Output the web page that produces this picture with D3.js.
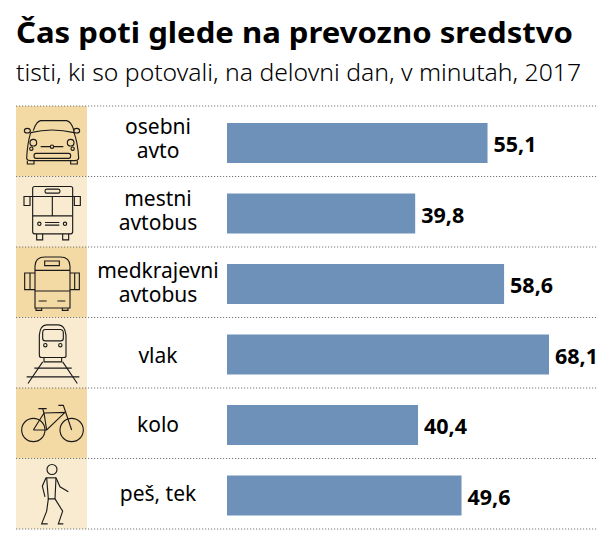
<!DOCTYPE html>
<html><head><meta charset="utf-8">
<script src="https://cdnjs.cloudflare.com/ajax/libs/d3/7.8.5/d3.min.js"></script>
<style>html,body{margin:0;background:#fff}svg{display:block}text{font-family:"Noto Sans",sans-serif;fill:#000}</style>
</head><body><svg id="c" width="614" height="545"></svg>
<script>
const titleText = "Čas poti glede na prevozno sredstvo";
const subtitleText = "tisti, ki so potovali, na delovni dan, v minutah, 2017";
const categories = [["osebni","avto"],["mestni","avtobus"],["medkrajevni","avtobus"],["vlak"],["kolo"],["peš, tek"]];
const iconNames = ["car","cityBus","coach","train","bike","walker"];
const values = [55.1,39.8,58.6,68.1,40.4,49.6];
const valueLabels = ["55,1","39,8","58,6","68,1","40,4","49,6"];
const bandColors = ["#f3d9a4","#f9ebd0"];
const labelNudge = [-7,-6,-4,10,8.5,7.5];

const svg = d3.select("#c");
svg.append("text").attr("x",16).attr("y",43).attr("font-size",29).attr("font-weight",700).attr("textLength",557).attr("lengthAdjust","spacingAndGlyphs").text(titleText);
svg.append("text").attr("x",16).attr("y",81).attr("font-size",24).attr("font-weight",300).attr("textLength",565).attr("lengthAdjust","spacingAndGlyphs").text(subtitleText);

const idx = d3.range(categories.length);
const y = d3.scaleBand().domain(idx).range([106,529]);
const x = d3.scaleLinear().domain([0,68.1]).range([227,549]);

svg.selectAll("rect.band").data(idx).join("rect").attr("class","band")
  .attr("x",16).attr("width",71).attr("y",i=>y(i)).attr("height",y.bandwidth())
  .attr("fill",i=>bandColors[i%2]);

svg.selectAll("line.rule").data(d3.range(categories.length+1)).join("line").attr("class","rule")
  .attr("x1",16).attr("x2",597).attr("y1",i=>106+i*y.bandwidth()).attr("y2",i=>106+i*y.bandwidth())
  .attr("stroke","#777").attr("stroke-width",1).attr("stroke-dasharray","1.2 1.8");

svg.selectAll("rect.bar").data(values).join("rect").attr("class","bar")
  .attr("x",x(0)).attr("y",(d,i)=>y(i)+17).attr("height",40)
  .attr("width",d=>x(d)-x(0)).attr("fill","#6e91ba");

svg.selectAll("text.val").data(values).join("text").attr("class","val")
  .attr("x",d=>x(d)+6).attr("y",(d,i)=>y(i)+46).attr("font-size",21.5).attr("font-weight",700)
  .attr("textLength",43).attr("lengthAdjust","spacingAndGlyphs")
  .text((d,i)=>valueLabels[i]);

categories.forEach((lines,i)=>{
  const cy = y(i)+y.bandwidth()/2;
  lines.forEach((t,k)=>{
    svg.append("text").attr("class","cat").attr("x",158).attr("text-anchor","middle")
      .attr("y",cy+labelNudge[i]+k*24).attr("font-size",21).text(t);
  });
});

// pictograms, drawn at 3x in a local frame and scaled down onto each band
const iconOrigin = [48,260,472,22,235,447];
const icons = {
 car:["M100 122Q108 95 122 92H200Q214 95 222 122","M92 128Q156 112 222 128","M91 122a9 7 0 1 1 -18 0a9 7 0 1 1 18 0M239 122a9 7 0 1 1 -18 0a9 7 0 1 1 18 0","M92 128Q82 160 80 205Q82 212 92 212H224Q234 212 236 205Q234 160 222 128","M110 158a10 10 0 1 1 -20 0a10 10 0 1 1 20 0M222 158a10 10 0 1 1 -20 0a10 10 0 1 1 20 0","M99 176a5 5 0 1 1 -10 0a5 5 0 1 1 10 0M223 176a5 5 0 1 1 -10 0a5 5 0 1 1 10 0","M122 170H150M162 170H190M161 170a5 5 0 1 1 -10 0a5 5 0 1 1 10 0","M108 190H206Q212 190 212 197Q212 205 206 205H108Q102 205 102 197Q102 190 108 190Z","M82 212V222H102V212M212 212V222H232V212"],
 cityBus:["M104 290H212Q218 290 218 296V426Q218 432 212 432H104Q98 432 98 426V296Q98 290 104 290Z","M98 320H218M98 378H218M157 320V378","M140 298H175Q180 298 180 304Q180 310 175 310H140Q135 310 135 304Q135 298 140 298Z","M98 320H72V347H90V320M218 320H241V347H223V320","M123 402a5 5 0 1 1 -10 0a5 5 0 1 1 10 0M200 402a5 5 0 1 1 -10 0a5 5 0 1 1 10 0","M135 398H178M135 406H178","M110 432V450H128V432M188 432V450H206V432"],
 coach:["M105 530Q105 502 135 502H180Q210 502 210 530V655H105Z","M105 542H210M105 604H210","M134 514H178V528H134Z","M105 550H74V600H105M90 550V600M210 550H238V600H210M224 550V600","M116 634H140M172 634H196","M108 655V662H125V655M187 655V662H204V655"],
 train:["M118 135V75Q120 45 140 44H175Q195 45 198 75V138Q198 142 190 142H125Q118 142 118 135Z","M136 58H180Q190 58 190 68V84Q190 92 182 92H136Q128 92 128 84V68Q128 58 136 58Z","M141 105a5 5 0 1 1 -10 0a5 5 0 1 1 10 0M186 105a5 5 0 1 1 -10 0a5 5 0 1 1 10 0","M132 142V155H185V142","M128 155L84 220M188 155L232 220","M103 174H215M80 200H238"],
 bike:["M135 361a35 35 0 1 1 -70 0a35 35 0 1 1 70 0","M250 361a35 35 0 1 1 -70 0a35 35 0 1 1 70 0","M100 361L132 310L195 308L140 361H100M132 310L140 361","M115 297H140M128 297L132 310","M175 287H190L215 361"],
 walker:["M171 480a15 15 0 1 1 -30 0a15 15 0 1 1 30 0","M138 505H168","M140 505L145 568H165L168 505","M138 505L127 530L135 562","M168 505L180 532L205 547","M145 568L140 605L125 643H143","M165 568L188 605L175 643H190"]
};
idx.forEach(i=>{
  const g = svg.append("g").attr("transform",`translate(0,${y(i)}) scale(${1/3}) translate(0,${-iconOrigin[i]})`);
  g.selectAll("path").data(icons[iconNames[i]]).join("path").attr("d",d=>d)
    .attr("fill","none").attr("stroke","#1a1a1a").attr("stroke-width",3.4);
});
</script></body></html>
